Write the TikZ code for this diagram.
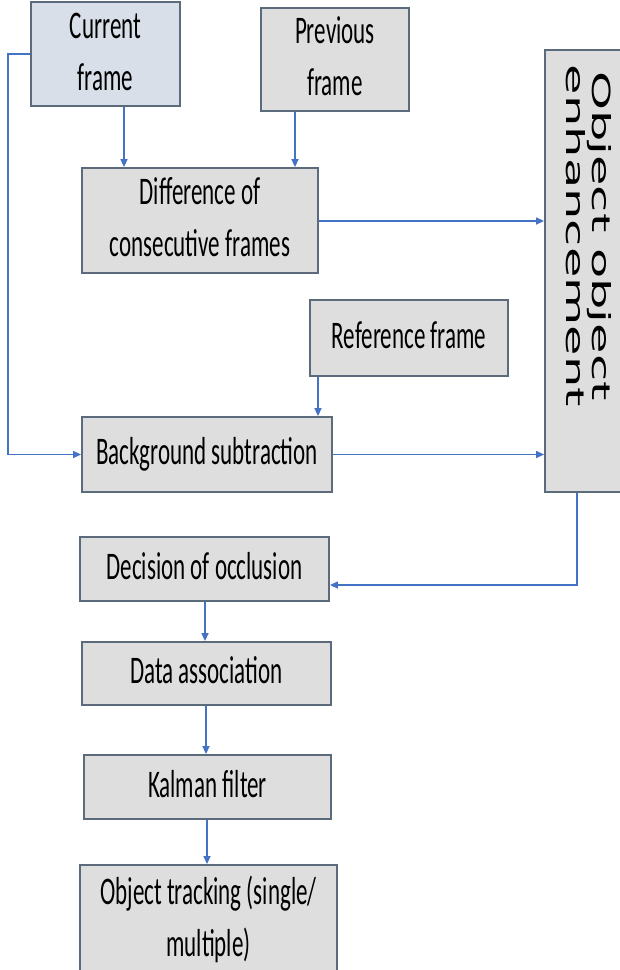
\documentclass[tikz,border=0pt]{standalone}
\usepackage{fontspec}
\setmainfont{Carlito}
\newfontfamily\dvfont{DejaVu Sans}
\usetikzlibrary{arrows.meta,calc}
\definecolor{boxfill}{HTML}{DEDEDE}
\definecolor{curfill}{HTML}{D8DFE8}
\definecolor{boxline}{HTML}{5C6B7C}
\definecolor{arrowblue}{HTML}{4472C4}
\newcommand{\tallt}[1]{\scalebox{1}[1.7]{\begin{tabular}{@{}c@{}}#1\end{tabular}}}
\tikzset{
  box/.style={draw=boxline, fill=boxfill, line width=1.8pt, inner sep=0pt,
    font=\fontsize{23}{30.5}\selectfont, text=black},
  conn/.style={draw=arrowblue, line width=1.3pt},
  arr/.style={conn, -{Triangle[length=8pt,width=7pt]}},
}
\begin{document}
\begin{tikzpicture}[x=1pt,y=-1pt]
\useasboundingbox (0,0) rectangle (620,970);
\node[box, fill=curfill, minimum width=149pt, minimum height=90pt] (cur) at (105.5,54) {\tallt{Current\\frame}};
\node[box, minimum width=148pt, minimum height=101pt] (prev) at (335,59.5) {\tallt{Previous\\frame}};
\node[box, minimum width=236pt, minimum height=105pt] (diff) at (200,220.5) {\tallt{Difference of\\consecutive frames}};
\node[box, minimum width=82pt, minimum height=442pt] (enh) at (586,271) {};
\node[inner sep=0pt, text=black] (enhlabel) at (585,236) {\rotatebox{-90}{\scalebox{1.98}[1]{\dvfont\fontsize{25}{26}\selectfont\begin{tabular}{@{}c@{}}Object object\\enhancement\end{tabular}}}};
\node[box, minimum width=198pt, minimum height=76pt] (ref) at (409,338) {\tallt{Reference frame}};
\node[box, minimum width=250pt, minimum height=75pt] (bg) at (207,454.5) {\tallt{Background subtraction}};
\node[box, minimum width=249pt, minimum height=64pt] (dec) at (204.5,569) {\tallt{Decision of occlusion}};
\node[box, minimum width=249pt, minimum height=63pt] (data) at (206.5,673.5) {\tallt{Data association}};
\node[box, minimum width=247pt, minimum height=64pt] (kal) at (207.5,787) {\tallt{Kalman filter}};
\node[box, minimum width=257pt, minimum height=110pt] (trk) at (208.5,920) {\tallt{Object tracking (single/\\multiple)}};
\coordinate (lx) at (8,0);
\coordinate (ex) at (577,0);
\draw[arr] (cur.south -| 124,0) -- (diff.north -| 124,0);
\draw[arr] (prev.south -| 295,0) -- (diff.north -| 295,0);
\draw[arr] (diff.east |- 0,221) -- (enh.west |- 0,221);
\draw[arr] (cur.west) -- (cur.west -| lx) -- (bg.west -| lx) -- (bg.west);
\draw[arr] (ref.south -| 318,0) -- (bg.north -| 318,0);
\draw[arr] (bg.east) -- (enh.west |- bg.east);
\draw[arr] (enh.south -| ex) -- (ex |- 0,585) -- (dec.east |- 0,585);
\draw[arr] (dec.south -| 205,0) -- (data.north -| 205,0);
\draw[arr] (data.south -| 206,0) -- (kal.north -| 206,0);
\draw[arr] (kal.south -| 207,0) -- (trk.north -| 207,0);
\end{tikzpicture}
\end{document}
